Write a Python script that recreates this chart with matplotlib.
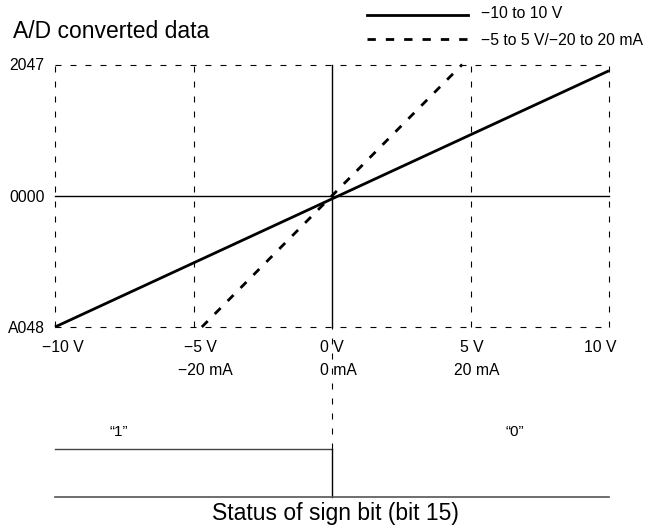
import numpy as np
import matplotlib
matplotlib.use("Agg")
import matplotlib.pyplot as plt
from matplotlib.lines import Line2D

plt.rcParams['font.family'] = ['Liberation Sans', 'DejaVu Sans']
plt.rcParams['lines.scale_dashes'] = False

# data
volt_ticks = [-10, -5, 0, 5, 10]
volt_labels = ['\u221210 V', '\u22125 V', '0 V', '5 V', '10 V']
ma_ticks = [-5, 0, 5]
ma_labels = ['\u221220 mA', '0 mA', '20 mA']
y_ticks = [-2048, 0, 2047]
y_labels = ['A048', '0000', '2047']

range10_x = [-10, 10]
range10_y = [-2048, 1950]
range5_x = [-4.7, 4.7]
range5_y = [-2048, 2047]

sign_x = [-10, 0, 0]
sign_y = [1, 1, 0]

W, H = 657, 529
fig = plt.figure(figsize=(W / 100, H / 100), dpi=100)

def fx(px):
    return px / W

def fy(py):
    return 1 - py / H

# main chart
ax = fig.add_axes([fx(55), fy(327), fx(609) - fx(55), fy(64.5) - fy(327)])
ax.set_xlim(-10, 10)
ax.set_ylim(-2048, 2047)
ax.axis('off')

thin_dash = (0, (4.3, 6.5))
thick_dash = (0, (6.0, 7.2))

# dashed frame / grid
for xv in [-10, -5, 5, 10]:
    ax.plot([xv, xv], [-2048, 2047], color='black', lw=0.8, linestyle=thin_dash, clip_on=False)
for yv in [-2048, 2047]:
    ax.plot([-10, 10], [yv, yv], color='black', lw=0.8, linestyle=thin_dash, clip_on=False)
# solid axes
ax.plot([0, 0], [-2048, 2047], color='black', lw=1.0, clip_on=False)
ax.plot([-10, 10], [0, 0], color='black', lw=1.0, clip_on=False)

ax.plot(range10_x, range10_y, color='black', lw=2.0, solid_capstyle='butt', clip_on=False)
ax.plot(range5_x, range5_y, color='black', lw=2.0, linestyle=thick_dash, clip_on=False)

# y labels
for yv, lab in zip(y_ticks, y_labels):
    ax.annotate(lab, (-10, yv), xytext=(-7.5, 0), textcoords='offset points',
                ha='right', va='center_baseline', fontsize=11.3)

# x labels (two rows), small hand offsets like the original
v_dx = [8, 6.5, 0, 1, -9]
for xv, lab, dx in zip(volt_ticks, volt_labels, v_dx):
    ax.annotate(lab, (xv, -2048), xytext=(dx * 0.72, -25.3 * 0.72), textcoords='offset points',
                ha='center', va='baseline', fontsize=11.3)
ma_dx = [12, 6, 6]
for xv, lab, dx in zip(ma_ticks, ma_labels, ma_dx):
    ax.annotate(lab, (xv, -2048), xytext=(dx * 0.72, -48 * 0.72), textcoords='offset points',
                ha='center', va='baseline', fontsize=11.3)

# sign bit section
ax2 = fig.add_axes([fx(55), fy(496.7), fx(609) - fx(55), fy(449) - fy(496.7)])
ax2.set_xlim(-10, 10)
ax2.set_ylim(0, 1)
ax2.axis('off')
ax2.plot([0, 0], [1, (496.7 - 327) / (496.7 - 449)], color='black', lw=0.8,
         linestyle=thin_dash, clip_on=False)
ax2.plot(sign_x[:2], sign_y[:2], color='#444444', lw=1.0, clip_on=False)
ax2.plot(sign_x[1:], sign_y[1:], color='black', lw=1.0, clip_on=False)
ax2.plot([-10, 10], [0, 0], color='#555555', lw=1.2, clip_on=False)
ax2.text(-7.7, 1.35, '\u201c1\u201d', ha='center', va='center', fontsize=11)
ax2.text(6.6, 1.35, '\u201c0\u201d', ha='center', va='center', fontsize=11)

fig.text(fx(335), fy(520), 'Status of sign bit (bit 15)', ha='center', va='baseline', fontsize=16.5)

# title and legend
fig.text(fx(12.7), fy(37.7), 'A/D converted data', ha='left', va='baseline', fontsize=16.5)
fig.add_artist(Line2D([fx(367), fx(468)], [fy(15), fy(15)], color='black', lw=2.0,
                      transform=fig.transFigure))
fig.add_artist(Line2D([fx(367), fx(468)], [fy(38.5), fy(38.5)], color='black', lw=2.0,
                      linestyle=thick_dash, transform=fig.transFigure))
fig.text(fx(481), fy(18), '\u221210 to 10 V', ha='left', va='baseline', fontsize=11.3)
fig.text(fx(481), fy(45), '\u22125 to 5 V/\u221220 to 20 mA', ha='left', va='baseline', fontsize=11.3)

fig.savefig('out.png', dpi=100)
